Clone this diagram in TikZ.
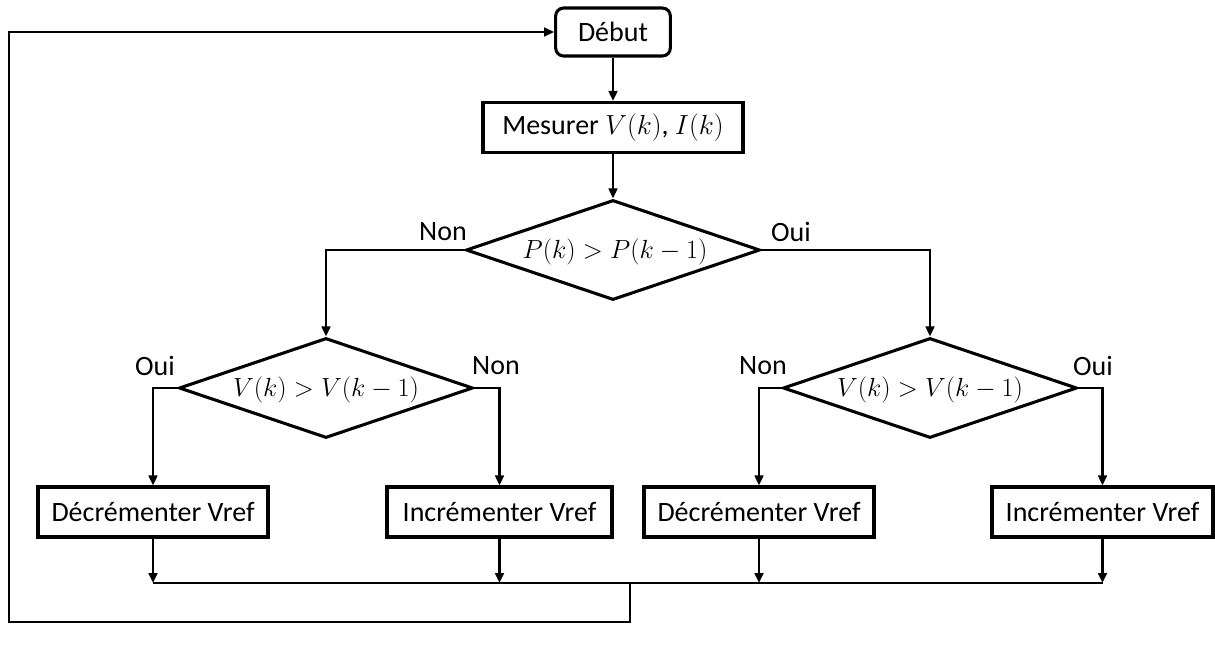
\documentclass[tikz,border=0pt]{standalone}
\usepackage{fontspec}
\setmainfont{Carlito}
\usetikzlibrary{shapes.geometric,arrows.meta}
\begin{document}
\begin{tikzpicture}[x=0.75pt,y=-0.75pt,
  every node/.style={font=\fontsize{21}{25}\selectfont, inner sep=0pt},
  conn/.style={line width=2.1pt, line join=miter},
  arr/.style={conn, -{Triangle[length=7.5pt,width=6.5pt]}},
  procbox/.style={draw, line width=2.3pt, rectangle, minimum height=37.5pt},
  startbox/.style={draw, line width=2.3pt, rectangle, rounded corners=6pt, minimum width=86pt, minimum height=36pt},
  decision/.style={draw, line width=2.3pt, diamond, aspect=2.94, minimum width=220.5pt, minimum height=75pt},
  lbl/.style={font=\fontsize{21}{25}\selectfont},
  mathlbl/.style={}
]
\useasboundingbox (0,0) rectangle (1215,647);
\node[startbox] (debut) at (613,32) {Début};
\node[procbox, minimum width=195pt] (mes) at (613,127.5) {Mesurer $V(k)$, $I(k)$};
\node[decision] (d0) at (613,250) {};
\node[mathlbl] (t0) at (615,252) {\scalebox{0.95}{$P(k) > P(k-1)$}};
\node[decision] (dl) at (326,388) {};
\node[mathlbl] (tl) at (326,390) {\scalebox{0.95}{$V(k) > V(k-1)$}};
\node[decision] (dr) at (930,388) {};
\node[mathlbl] (tr) at (930,390) {\scalebox{0.95}{$V(k) > V(k-1)$}};
\node[procbox, minimum width=172.5pt] (b1) at (153,512) {Décrémenter Vref};
\node[procbox, minimum width=168.75pt] (b2) at (499.5,512) {Incrémenter Vref};
\node[procbox, minimum width=172.5pt] (b3) at (759,512) {Décrémenter Vref};
\node[procbox, minimum width=165.75pt] (b4) at (1102.5,512) {Incrémenter Vref};

\node[lbl] (l0n) at (443,232) {Non};
\node[lbl] (l0o) at (791,232) {Oui};
\node[lbl] (lln) at (496,366) {Non};
\node[lbl] (llo) at (155,366) {Oui};
\node[lbl] (lrn) at (763,366) {Non};
\node[lbl] (lro) at (1093,366) {Oui};

\coordinate (m1) at (153,583);
\coordinate (m4) at (1102.5,583);
\coordinate (mo) at (630,583);
\coordinate (lo) at (630,622);
\coordinate (lc) at (9,622);
\coordinate (lt) at (9,32);

\draw[arr] (debut) -- (mes);
\draw[arr] (mes) -- (d0.north);
\draw[arr] (d0.west) -| (dl.north);
\draw[arr] (d0.east) -| (dr.north);
\draw[arr] (dl.west) -| (b1.north);
\draw[arr] (dl.east) -| (b2.north);
\draw[arr] (dr.west) -| (b3.north);
\draw[arr] (dr.east) -| (b4.north);
\draw[arr] (b1.south) -- (b1.south |- m1);
\draw[arr] (b2.south) -- (b2.south |- m1);
\draw[arr] (b3.south) -- (b3.south |- m1);
\draw[arr] (b4.south) -- (b4.south |- m1);
\draw[conn] (m1) -- (m4);
\draw[arr] (mo) -- (lo) -- (lc) -- (lt) -- (debut.west);
\end{tikzpicture}
\end{document}
